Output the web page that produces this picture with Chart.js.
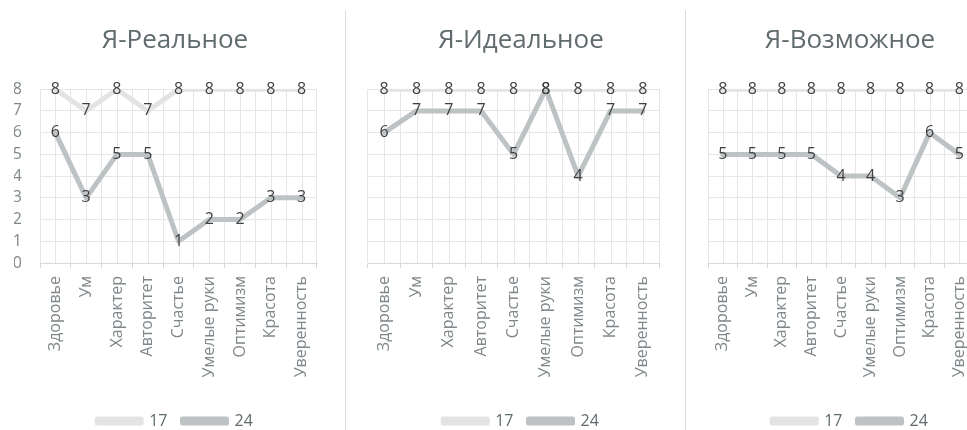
<!DOCTYPE html>
<html>
<head>
<meta charset="utf-8">
<script src="https://cdn.jsdelivr.net/npm/chart.js@4.4.1/dist/chart.umd.min.js"></script>
<style>
  html, body { margin: 0; padding: 0; background: #fff; }
  #wrap { position: relative; width: 967px; height: 430px; overflow: hidden; }
  canvas { position: absolute; top: 0; }
  .sep { position: absolute; top: 10px; bottom: 0; width: 1px; background: #dcdcdc; }
</style>
</head>
<body>
<div id="wrap">
  <canvas id="c1" width="345" height="430" style="left:0"></canvas>
  <div class="sep" style="left:345px"></div>
  <canvas id="c2" width="339" height="430" style="left:346px"></canvas>
  <div class="sep" style="left:685px"></div>
  <canvas id="c3" width="310" height="430" style="left:686px"></canvas>
</div>
<script>
// Data
const categories = ["Здоровье", "Ум", "Характер", "Авторитет", "Счастье", "Умелые руки", "Оптимизм", "Красота", "Уверенность"];
const seriesNames = ["17", "24"];

const real17 = [8, 7, 8, 7, 8, 8, 8, 8, 8];
const real24 = [6, 3, 5, 5, 1, 2, 2, 3, 3];
const ideal17 = [8, 8, 8, 8, 8, 8, 8, 8, 8];
const ideal24 = [6, 7, 7, 7, 5, 8, 4, 7, 7];
const possible17 = [8, 8, 8, 8, 8, 8, 8, 8, 8];
const possible24 = [5, 5, 5, 5, 4, 4, 3, 6, 5];

const yTickMin = 0;
const yTickMax = 8;

// Styles
const FONT = "Open Sans";
const gridColor = "#e6e6e6";
const color17 = "#e3e3e3";
const color24 = "#bdc2c5";
const axisText = "#7f878a";

// vertical grid lines through category centres
const centerGrid = {
  id: "centerGrid",
  beforeDatasetsDraw(chart) {
    const { ctx, chartArea, scales } = chart;
    const x = scales.x;
    ctx.save();
    ctx.strokeStyle = gridColor;
    ctx.lineWidth = 1;
    x.ticks.forEach((t, i) => {
      const px = Math.round(x.getPixelForTick(i)) + 0.5;
      ctx.beginPath();
      ctx.moveTo(px, chartArea.top);
      ctx.lineTo(px, chartArea.bottom);
      ctx.stroke();
    });
    ctx.restore();
  },
};

// value labels centred on each point
const valueLabels = {
  id: "valueLabels",
  afterDatasetsDraw(chart) {
    const ctx = chart.ctx;
    ctx.save();
    ctx.font = "16px " + FONT;
    ctx.fillStyle = "#404040";
    ctx.textAlign = "center";
    ctx.textBaseline = "middle";
    chart.data.datasets.forEach((ds, i) => {
      chart.getDatasetMeta(i).data.forEach((pt, j) => {
        ctx.fillText(ds.data[j], pt.x, pt.y);
      });
    });
    ctx.restore();
  },
};

function makeChart(id, title, s17, s24, cfg) {
  const line = (label, data, color, order) => ({
    label: label,
    data: data,
    borderColor: color,
    backgroundColor: color,
    borderWidth: 5,
    borderJoinStyle: "round",
    borderCapStyle: "round",
    pointRadius: 0,
    tension: 0,
    order: order,
  });

  return new Chart(document.getElementById(id).getContext("2d"), {
    type: "line",
    data: {
      labels: categories,
      datasets: [line(seriesNames[0], s17, color17, 2), line(seriesNames[1], s24, color24, 1)],
    },
    options: {
      responsive: false,
      animation: false,
      layout: { padding: { left: cfg.padL, right: cfg.padR, top: 0, bottom: -9 } },
      plugins: {
        title: {
          display: true,
          text: title,
          color: "#606b6e",
          font: { family: FONT, size: 26, weight: "normal" },
          padding: { top: 25, bottom: 33 },
        },
        legend: {
          position: "bottom",
          labels: {
            color: "#606b6e",
            font: { family: FONT, size: 16 },
            boxWidth: 44,
            boxHeight: 4,
            padding: 15,
            sort: (a, b) => a.datasetIndex - b.datasetIndex,
          },
        },
        tooltip: { enabled: false },
      },
      scales: {
        x: {
          offset: true,
          grid: { offset: true, color: gridColor, tickColor: "#d9d9d9", tickLength: 5 },
          border: { color: "#d9d9d9" },
          ticks: {
            autoSkip: false,
            maxRotation: 90,
            minRotation: 90,
            padding: 8,
            color: axisText,
            font: { family: FONT, size: 16 },
          },
          afterFit(s) { s.height = cfg.xHeight; },
        },
        y: {
          min: yTickMin,
          max: yTickMax,
          grid: { color: gridColor, drawTicks: false },
          border: { display: false },
          ticks: {
            display: cfg.showY,
            autoSkip: false,
            stepSize: 1,
            maxTicksLimit: 20,
            padding: 18,
            color: axisText,
            font: { family: FONT, size: 16 },
          },
          afterFit(s) { s.width = cfg.yWidth; },
        },
        pad: {
          type: "linear",
          position: "right",
          grid: { display: false },
          border: { display: false },
          ticks: { display: false },
          afterFit(s) { s.width = cfg.rightW; },
        },
      },
    },
    plugins: [centerGrid, valueLabels],
  });
}

makeChart("c1", "Я-Реальное", real17, real24, { padL: 14, padR: 9, yWidth: 26, rightW: 19, showY: true, xHeight: 135 });
makeChart("c2", "Я-Идеальное", ideal17, ideal24, { padL: 22, padR: 11, yWidth: 0, rightW: 15, showY: false, xHeight: 135 });
makeChart("c3", "Я-Возможное", possible17, possible24, { padL: 22, padR: 4, yWidth: 0, rightW: 18, showY: false, xHeight: 135 });
</script>
</body>
</html>
